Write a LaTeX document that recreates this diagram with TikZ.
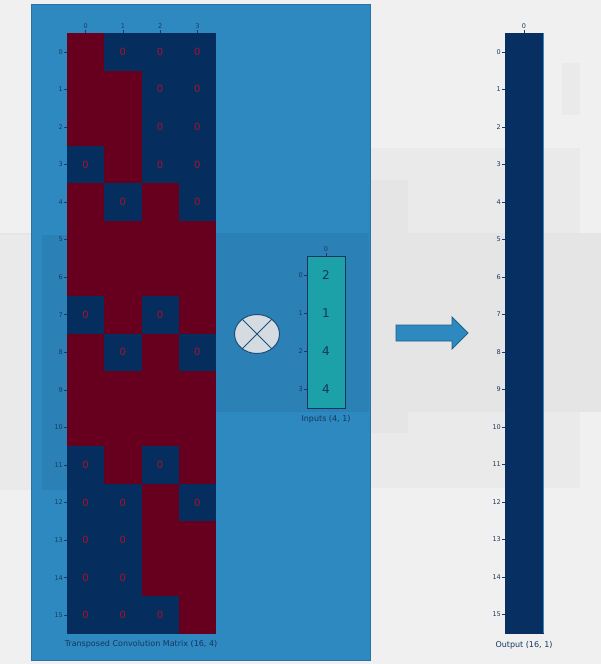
\documentclass[tikz,border=0pt]{standalone}
\usepackage{fontspec}
\setmainfont{DejaVu Sans}
\usetikzlibrary{shapes.geometric}
\definecolor{bgc}{HTML}{F0F0F0}
\definecolor{ghostgrey}{HTML}{E5E5E5}
\definecolor{ghostlight}{HTML}{EAEAEA}
\definecolor{panelc}{HTML}{2E89C1}
\definecolor{panelline}{HTML}{2872A6}
\definecolor{paneldark}{HTML}{2B80B6}
\definecolor{cellred}{HTML}{67001F}
\definecolor{cellblue}{HTML}{052D5E}
\definecolor{zerored}{HTML}{A8132C}
\definecolor{tickc}{HTML}{1C3A5E}
\definecolor{tealc}{HTML}{1BA1A7}
\definecolor{navyc}{HTML}{14365E}
\definecolor{outblue}{HTML}{072F61}
\definecolor{circfill}{HTML}{D4DBE1}
\definecolor{circline}{HTML}{1D4F7C}
\definecolor{arrowline}{HTML}{1F5F8B}
\tikzset{
  cellbase/.style={minimum width=37.25pt, minimum height=37.56pt, inner sep=0pt, outer sep=0pt},
  redcell/.style={cellbase, fill=cellred},
  bluecell/.style={cellbase, fill=cellblue, text=zerored, font=\fontsize{10}{10}\selectfont},
  ticklab/.style={text=tickc, font=\fontsize{6.5}{6.5}\selectfont, inner sep=1pt},
  tickmark/.style={draw=tickc, line width=0.5pt},
  caption/.style={text=navyc, font=\fontsize{8}{8}\selectfont, inner sep=0pt},
  incell/.style={minimum width=38pt, minimum height=38pt, inner sep=0pt, outer sep=0pt, fill=tealc, text=navyc, font=\fontsize{12}{12}\selectfont},
  outcell/.style={minimum width=38pt, minimum height=37.5pt, inner sep=0pt, outer sep=0pt, fill=outblue}
}
\begin{document}
\begin{tikzpicture}[x=1pt,y=-1pt]
\useasboundingbox (0,0) rectangle (601,664);
\fill[bgc] (0,0) rectangle (601,664);
% faint ghost shapes
\fill[ghostlight] (370,148) rectangle (580,488);
\fill[ghostgrey] (0,233) rectangle (601,412);
\fill[ghostlight] (0,235) rectangle (31,490);
\fill[ghostgrey] (370,180) rectangle (408,433);
\fill[ghostlight] (562,63) rectangle (580,115);
% blue panel
\node[draw=panelline, line width=1.2pt, fill=panelc, minimum width=339pt, minimum height=656pt, inner sep=0pt, anchor=north west] (panel) at (31,4) {};
\fill[paneldark] (216,233) rectangle (369,412);
\fill[paneldark] (42,235) rectangle (67,490);
% transposed convolution matrix
\foreach \r/\a/\b/\c/\d in {0/1/0/0/0,1/1/1/0/0,2/1/1/0/0,3/0/1/0/0,4/1/0/1/0,5/1/1/1/1,6/1/1/1/1,7/0/1/0/1,8/1/0/1/0,9/1/1/1/1,10/1/1/1/1,11/0/1/0/1,12/0/0/1/0,13/0/0/1/1,14/0/0/1/1,15/0/0/0/1}{
  \foreach \col/\v in {0/\a,1/\b,2/\c,3/\d}{
    \ifnum\v=1
      \node[redcell] (m\r-\col) at ({67+(\col+0.5)*37.25},{33+(\r+0.5)*37.5625}) {};
    \else
      \node[bluecell] (m\r-\col) at ({67+(\col+0.5)*37.25},{33+(\r+0.5)*37.5625}) {0};
    \fi
  }
  \coordinate (mt\r) at (67,{33+(\r+0.5)*37.5625});
  \draw[tickmark] (mt\r) -- ++(-3,0);
  \node[ticklab, anchor=east] (mrl\r) at ([xshift=-3pt]mt\r) {\r};
}
\foreach \col in {0,1,2,3}{
  \coordinate (mc\col) at ({67+(\col+0.5)*37.25},33);
  \draw[tickmark] (mc\col) -- ++(0,-3);
  \node[ticklab, anchor=south] (mcl\col) at ([yshift=3pt]mc\col) {\col};
}
\node[caption] (mtitle) at (141,644) {Transposed Convolution Matrix (16, 4)};
% multiplication sign
\node[ellipse, draw=circline, line width=1pt, fill=circfill, minimum width=45pt, minimum height=39pt, inner sep=0pt] (otimes) at (257,334) {};
\draw[circline, line width=1pt] (otimes.45) -- (otimes.225);
\draw[circline, line width=1pt] (otimes.135) -- (otimes.315);
% inputs
\foreach \i/\v in {0/2,1/1,2/4,3/4}{
  \node[incell] (in\i) at (326,{256+(\i+0.5)*38}) {\v};
  \coordinate (it\i) at (307,{256+(\i+0.5)*38});
  \draw[tickmark] (it\i) -- ++(-3,0);
  \node[ticklab, anchor=east] (irl\i) at ([xshift=-3pt]it\i) {\i};
}
\draw[navyc, line width=0.6pt] (in0.north west) rectangle (in3.south east);
\coordinate (ic0) at (326,256);
\draw[tickmark] (ic0) -- ++(0,-3);
\node[ticklab, anchor=south] (icl0) at ([yshift=3pt]ic0) {0};
\node[caption] (intitle) at (326,419) {Inputs (4, 1)};
% arrow
\filldraw[fill=panelc, draw=arrowline, line width=0.8pt] (396,325) -- (452,325) -- (452,317) -- (468,333) -- (452,349) -- (452,341) -- (396,341) -- cycle;
% output
\foreach \i in {0,...,15}{
  \node[outcell] (out\i) at (524,{33+(\i+0.5)*37.5}) {};
  \coordinate (ot\i) at (505,{33+(\i+0.5)*37.5});
  \draw[tickmark] (ot\i) -- ++(-3,0);
  \node[ticklab, anchor=east] (orl\i) at ([xshift=-3pt]ot\i) {\i};
}
\draw[outblue, line width=0.6pt] (out0.north west) rectangle (out15.south east);
\draw[panelc, line width=1pt] (out0.north east) -- (out15.south east);
\coordinate (oc0) at (524,33);
\draw[tickmark] (oc0) -- ++(0,-3);
\node[ticklab, anchor=south] (ocl0) at ([yshift=3pt]oc0) {0};
\node[caption] (outtitle) at (524,645) {Output (16, 1)};
\end{tikzpicture}
\end{document}
